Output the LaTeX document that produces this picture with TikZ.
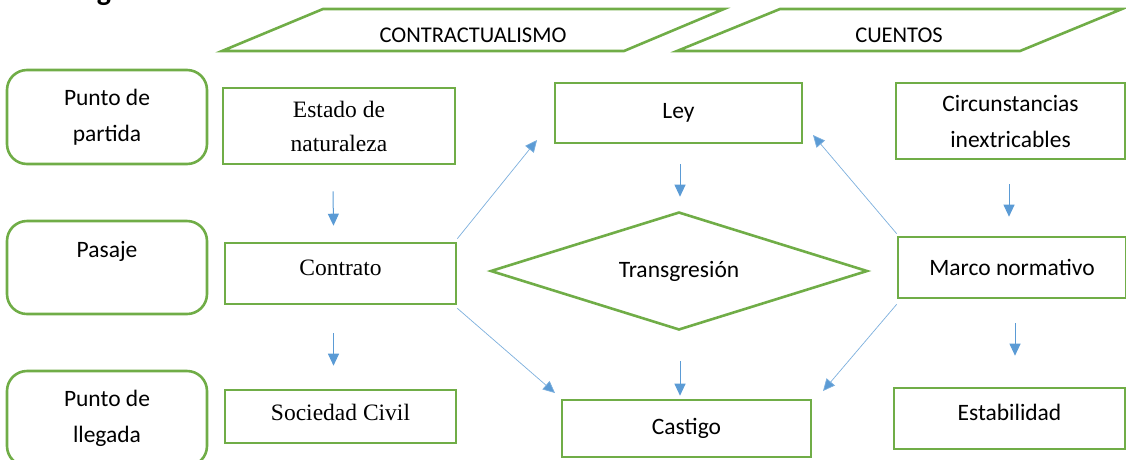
\documentclass[tikz,border=0pt]{standalone}
\usepackage{fontspec}
\setmainfont{Carlito}
\newfontfamily\serifx{Liberation Serif}
\usetikzlibrary{arrows.meta,shapes.geometric}
\definecolor{gr}{HTML}{70AD47}
\definecolor{bl}{HTML}{5B9BD5}
\tikzset{
  gbox/.style={draw=gr, line width=2.6pt, inner sep=0pt, align=center, font=\fontsize{23.5}{36}\selectfont},
  sbox/.style={gbox, font=\serifx\fontsize{23.5}{34}\selectfont},
  rbox/.style={gbox, rounded corners=20pt},
  arr/.style={draw=bl, line width=1pt, -{Triangle[length=12pt,width=11pt]}},
  darr/.style={draw=bl!80, line width=0.7pt, -{Triangle[length=12pt,width=11pt,fill=bl]}},
  ptext/.style={font=\fontsize{22.5}{24}\selectfont},
}
\begin{document}
\begin{tikzpicture}[x=1pt,y=-1pt]
\useasboundingbox (0,0) rectangle (1126,459);
\clip (0,0) rectangle (1126,459);
% cut-off title fragment
\node[anchor=base, inner sep=0pt, font=\bfseries\fontsize{30}{30}\selectfont] (frag) at (104,0.5) {g};
% parallelograms
\draw[gr, line width=2.6pt] (222,51) -- (323,9) -- (724,9) -- (624,51) -- cycle;
\draw[gr, line width=2.6pt] (677,51) -- (780,9) -- (1122,9) -- (1020,51) -- cycle;
\node[ptext] (contr) at (473,35) {CONTRACTUALISMO};
\node[ptext] (cuen) at (899,35) {CUENTOS};
% left column
\node[rbox, minimum width=200pt, minimum height=94pt] (pp) at (107,117) {Punto de\\partida};
\node[rbox, minimum width=200pt, minimum height=93pt] (pas) at (107,267.5) {Pasaje\\[0pt]~};
\node[rbox, minimum width=200pt, minimum height=95pt] (pl) at (107,418.5) {Punto de\\llegada};
% contractualism column
\node[sbox, minimum width=232pt, minimum height=76pt] (est) at (339,126) {Estado de\\naturaleza};
\node[sbox, minimum width=231pt, minimum height=61pt, text depth=12pt] (con) at (340.5,273.5) {Contrato};
\node[sbox, minimum width=231pt, minimum height=53pt, text depth=9pt] (soc) at (340.5,416.5) {Sociedad Civil};
% middle column
\node[gbox, minimum width=247pt, minimum height=60pt] (ley) at (678.5,113) {Ley};
\node[gbox, diamond, aspect=3.2, minimum width=377pt, minimum height=118pt] (tra) at (679,271) {Transgresión};
\node[gbox, minimum width=249pt, minimum height=57pt] (cas) at (686.5,428.5) {Castigo};
% right column
\node[gbox, minimum width=229pt, minimum height=76pt] (cir) at (1010.5,121) {Circunstancias\\inextricables};
\node[gbox, minimum width=228pt, minimum height=61pt] (mar) at (1012,267.5) {Marco normativo};
\node[gbox, minimum width=231pt, minimum height=61pt, text depth=12pt] (sta) at (1009.5,418.5) {Estabilidad};
% vertical arrows
\draw[arr] ([xshift=-6pt,yshift=-26pt]est.south) -- ([xshift=-7pt,yshift=16pt]con.north);
\draw[arr] ([xshift=-7pt,yshift=-28pt]con.south) -- ([xshift=-7pt,yshift=23pt]soc.north);
\draw[arr] ([xshift=1.5pt,yshift=-20pt]ley.south) -- ([xshift=1pt,yshift=14pt]tra.north);
\draw[arr] ([xshift=1pt,yshift=-30pt]tra.south) -- ([xshift=-6.5pt,yshift=3pt]cas.north);
\draw[arr] ([xshift=-1.5pt,yshift=-24pt]cir.south) -- ([xshift=-3pt,yshift=19pt]mar.north);
\draw[arr] ([xshift=3pt,yshift=-24pt]mar.south) -- ([xshift=5.5pt,yshift=31pt]sta.north);
% diagonal arrows
\coordinate (d1) at (537,140);
\coordinate (d2) at (555,393);
\coordinate (d3) at (813,135);
\coordinate (d4) at (823,391);
\draw[darr] ([yshift=3pt]con.north east) -- (d1);
\draw[darr] ([yshift=-3pt]con.south east) -- (d2);
\draw[darr] ([yshift=2pt]mar.north west) -- (d3);
\draw[darr] ([yshift=-5pt]mar.south west) -- (d4);
\end{tikzpicture}
\end{document}
